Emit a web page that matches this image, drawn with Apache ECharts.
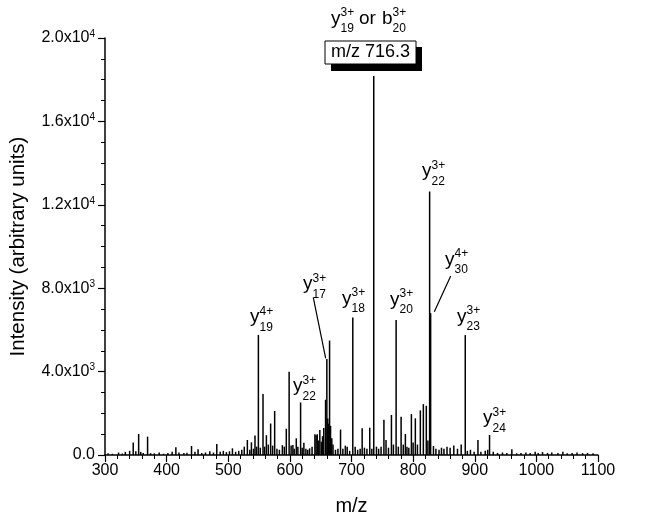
<!DOCTYPE html>
<html><head><meta charset="utf-8">
<script src="https://cdn.jsdelivr.net/npm/echarts@6/dist/echarts.min.js"></script>
<style>html,body{margin:0;padding:0;background:#fff}#c{width:647px;height:522px}</style>
</head><body><div id="c"></div>
<script>
// ---- data (m/z, intensity) ----
const peakMz = [
 305,312,322,328,333,340,345.8,350,354.6,358,362,369.1,374,380,388,395,402,409,415,420,428,433,440.4,446,451,457,463,470,476,481.4,487,492,497,502,506.8,512,517,522,
 526,531,535,537.6,541,543.4,546,548.9,552,556.4,559,561.9,565,568.8,572,575.3,579,583,587.8,591,594.2,598.8,602,604.9,607,610.4,613,617.4,620,622.7,626,629,632,636,
 640.6,642.5,644.4,646,648.6,651,653,655,657.9,660,661.5,662.5,664.4,666,668,670,674,678,682.2,686,690,693,697,702.1,706,710,714,717.3,721,725,729.6,733,736.1,
 740.5,744,748,752.6,756,760,764.8,768,772.4,776,780.5,784,787.4,790,793,797.2,800,803.6,807,811.7,816.6,821.4,824,826.8,828.4,
 833,837,842,846,850,855,860,866,872,878,884.6,888,893,899,905.2,910,917,921,924,930,937,945,952,960.2,968,975,983,990,998,1003,1010,1018,1025,1035,1043,1050,1058,1066,1075,1083,1092
];
const peakIntensity = [
 80,60,120,70,150,200,600,180,1010,150,100,880,90,80,120,60,100,160,370,120,90,110,430,150,270,100,120,180,110,530,150,200,140,180,320,150,200,250,
 400,720,250,610,300,930,400,5760,350,2920,400,950,500,1510,450,2110,300,250,470,400,1260,3990,450,480,300,800,400,2520,350,590,300,250,320,400,
 1000,950,1000,700,1200,640,900,1300,2650,4600,1750,1500,5490,1400,800,500,250,300,1220,300,450,400,200,6600,400,250,300,1280,350,300,1310,300,18180,
 400,300,400,1690,720,350,1920,500,6480,400,1840,500,1010,400,350,1960,600,1760,500,2140,2440,2360,700,12640,6800,
 430,300,250,350,300,400,350,450,300,500,5750,200,250,150,720,150,200,250,960,150,100,120,100,280,80,100,120,100,150,100,140,100,120,90,150,80,100,120,90,100,80
];
// annotated ions: base letter, superscript, subscript
const ionBase = ['y','y','y','y','y','y','y','y','y'];
const ionSup  = ['4+','3+','3+','3+','3+','3+','4+','3+','3+'];
const ionSub  = ['19','22','17','18','20','22','30','23','24'];
const boxText = 'm/z 716.3';

// ---- layout / style ----
const FONT = '"Liberation Sans", Arial, Helvetica, sans-serif';
const ionPos = [[250,323.5],[293,392.5],[303,290.5],[342,305],[390,306],[422,177.5],[445,266],[457,323],[483,424.5]];
const BIG = 19, SMALL = 12;

function ionGraphic(base, sup, sub, x, yb) {
  const w = base === 'b' ? 10.6 : 9.5;
  const mk = (t, px, py, fs) => ({type:'text', x:px, y:py, silent:true,
    style:{text:t, fontSize:fs, fontFamily:FONT, fill:'#000', align:'left', verticalAlign:'middle'}});
  return [mk(base, x, yb - 6.6, BIG), mk(sup, x + w, yb - 12.2, SMALL), mk(sub, x + w, yb + 3.8, SMALL)];
}

const graphic = [];
ionBase.forEach((b, i) => graphic.push(...ionGraphic(b, ionSup[i], ionSub[i], ionPos[i][0], ionPos[i][1])));
// title: y19(3+) or b20(3+)
graphic.push(...ionGraphic('y', '3+', '19', 331, 25));
graphic.push({type:'text', x:359, y:25 - 6.6, silent:true, style:{text:'or', fontSize:BIG, fontFamily:FONT, fill:'#000', align:'left', verticalAlign:'middle'}});
graphic.push(...ionGraphic('b', '3+', '20', 382, 25));
// boxed m/z label with shadow
graphic.push({type:'rect', silent:true, shape:{x:331, y:47, width:91, height:24}, style:{fill:'#000'}});
graphic.push({type:'rect', silent:true, shape:{x:325, y:41, width:91, height:23}, style:{fill:'#fff', stroke:'#000', lineWidth:1}});
graphic.push({type:'text', silent:true, x:370.5, y:52.5, style:{text:boxText, fontSize:18, fontFamily:FONT, fill:'#000', align:'center', verticalAlign:'middle'}});
// leader lines
graphic.push({type:'line', silent:true, shape:{x1:313.3, y1:297.7, x2:325.7, y2:358.3}, style:{stroke:'#000', lineWidth:1.2}});
graphic.push({type:'line', silent:true, shape:{x1:450.7, y1:276, x2:434.3, y2:311.7}, style:{stroke:'#000', lineWidth:1.2}});

function fmtY(v) {
  if (v === 0) return '{m|0.0}';
  const e = Math.floor(Math.log10(v) + 1e-9);
  const m = (v / Math.pow(10, e)).toFixed(1);
  return '{m|' + m + 'x10}{e|' + e + '}';
}

const data = peakMz.map((m, i) => [m, peakIntensity[i]]);
const chart = echarts.init(document.getElementById('c'), null, {renderer:'canvas'});
chart.setOption({
  animation: false,
  grid: {left:104, right:49, top:38, bottom:67},
  xAxis: {
    type:'value', min:300, max:1100, interval:100,
    name:'m/z', nameLocation:'middle', nameGap:41,
    nameTextStyle:{fontSize:20, fontFamily:FONT, color:'#000'},
    axisLine:{lineStyle:{color:'#000', width:1.5}},
    axisTick:{length:7, lineStyle:{color:'#000', width:1.2}},
    minorTick:{show:true, splitNumber:5, length:4, lineStyle:{color:'#000', width:1}},
    splitLine:{show:false},
    axisLabel:{fontSize:16, fontFamily:FONT, color:'#000', margin:8, formatter: v => String(v)}
  },
  yAxis: {
    type:'value', min:0, max:20000, interval:4000,
    name:'Intensity (arbitrary units)', nameLocation:'middle', nameGap:76,
    nameTextStyle:{fontSize:20.5, fontFamily:FONT, color:'#000'},
    axisLine:{show:true, lineStyle:{color:'#000', width:1.5}},
    axisTick:{show:true, length:7, lineStyle:{color:'#000', width:1.2}},
    minorTick:{show:true, splitNumber:4, length:4, lineStyle:{color:'#000', width:1}},
    splitLine:{show:false},
    axisLabel:{fontFamily:FONT, color:'#000', margin:10, formatter: fmtY,
      rich:{m:{fontSize:16, fontFamily:FONT, color:'#000', lineHeight:18},
            e:{fontSize:10, fontFamily:FONT, color:'#000', lineHeight:9, verticalAlign:'top'}}}
  },
  series: [{type:'bar', data:data, barWidth:1.5, silent:true, itemStyle:{color:'#000'}}],
  graphic: graphic
});
</script></body></html>
